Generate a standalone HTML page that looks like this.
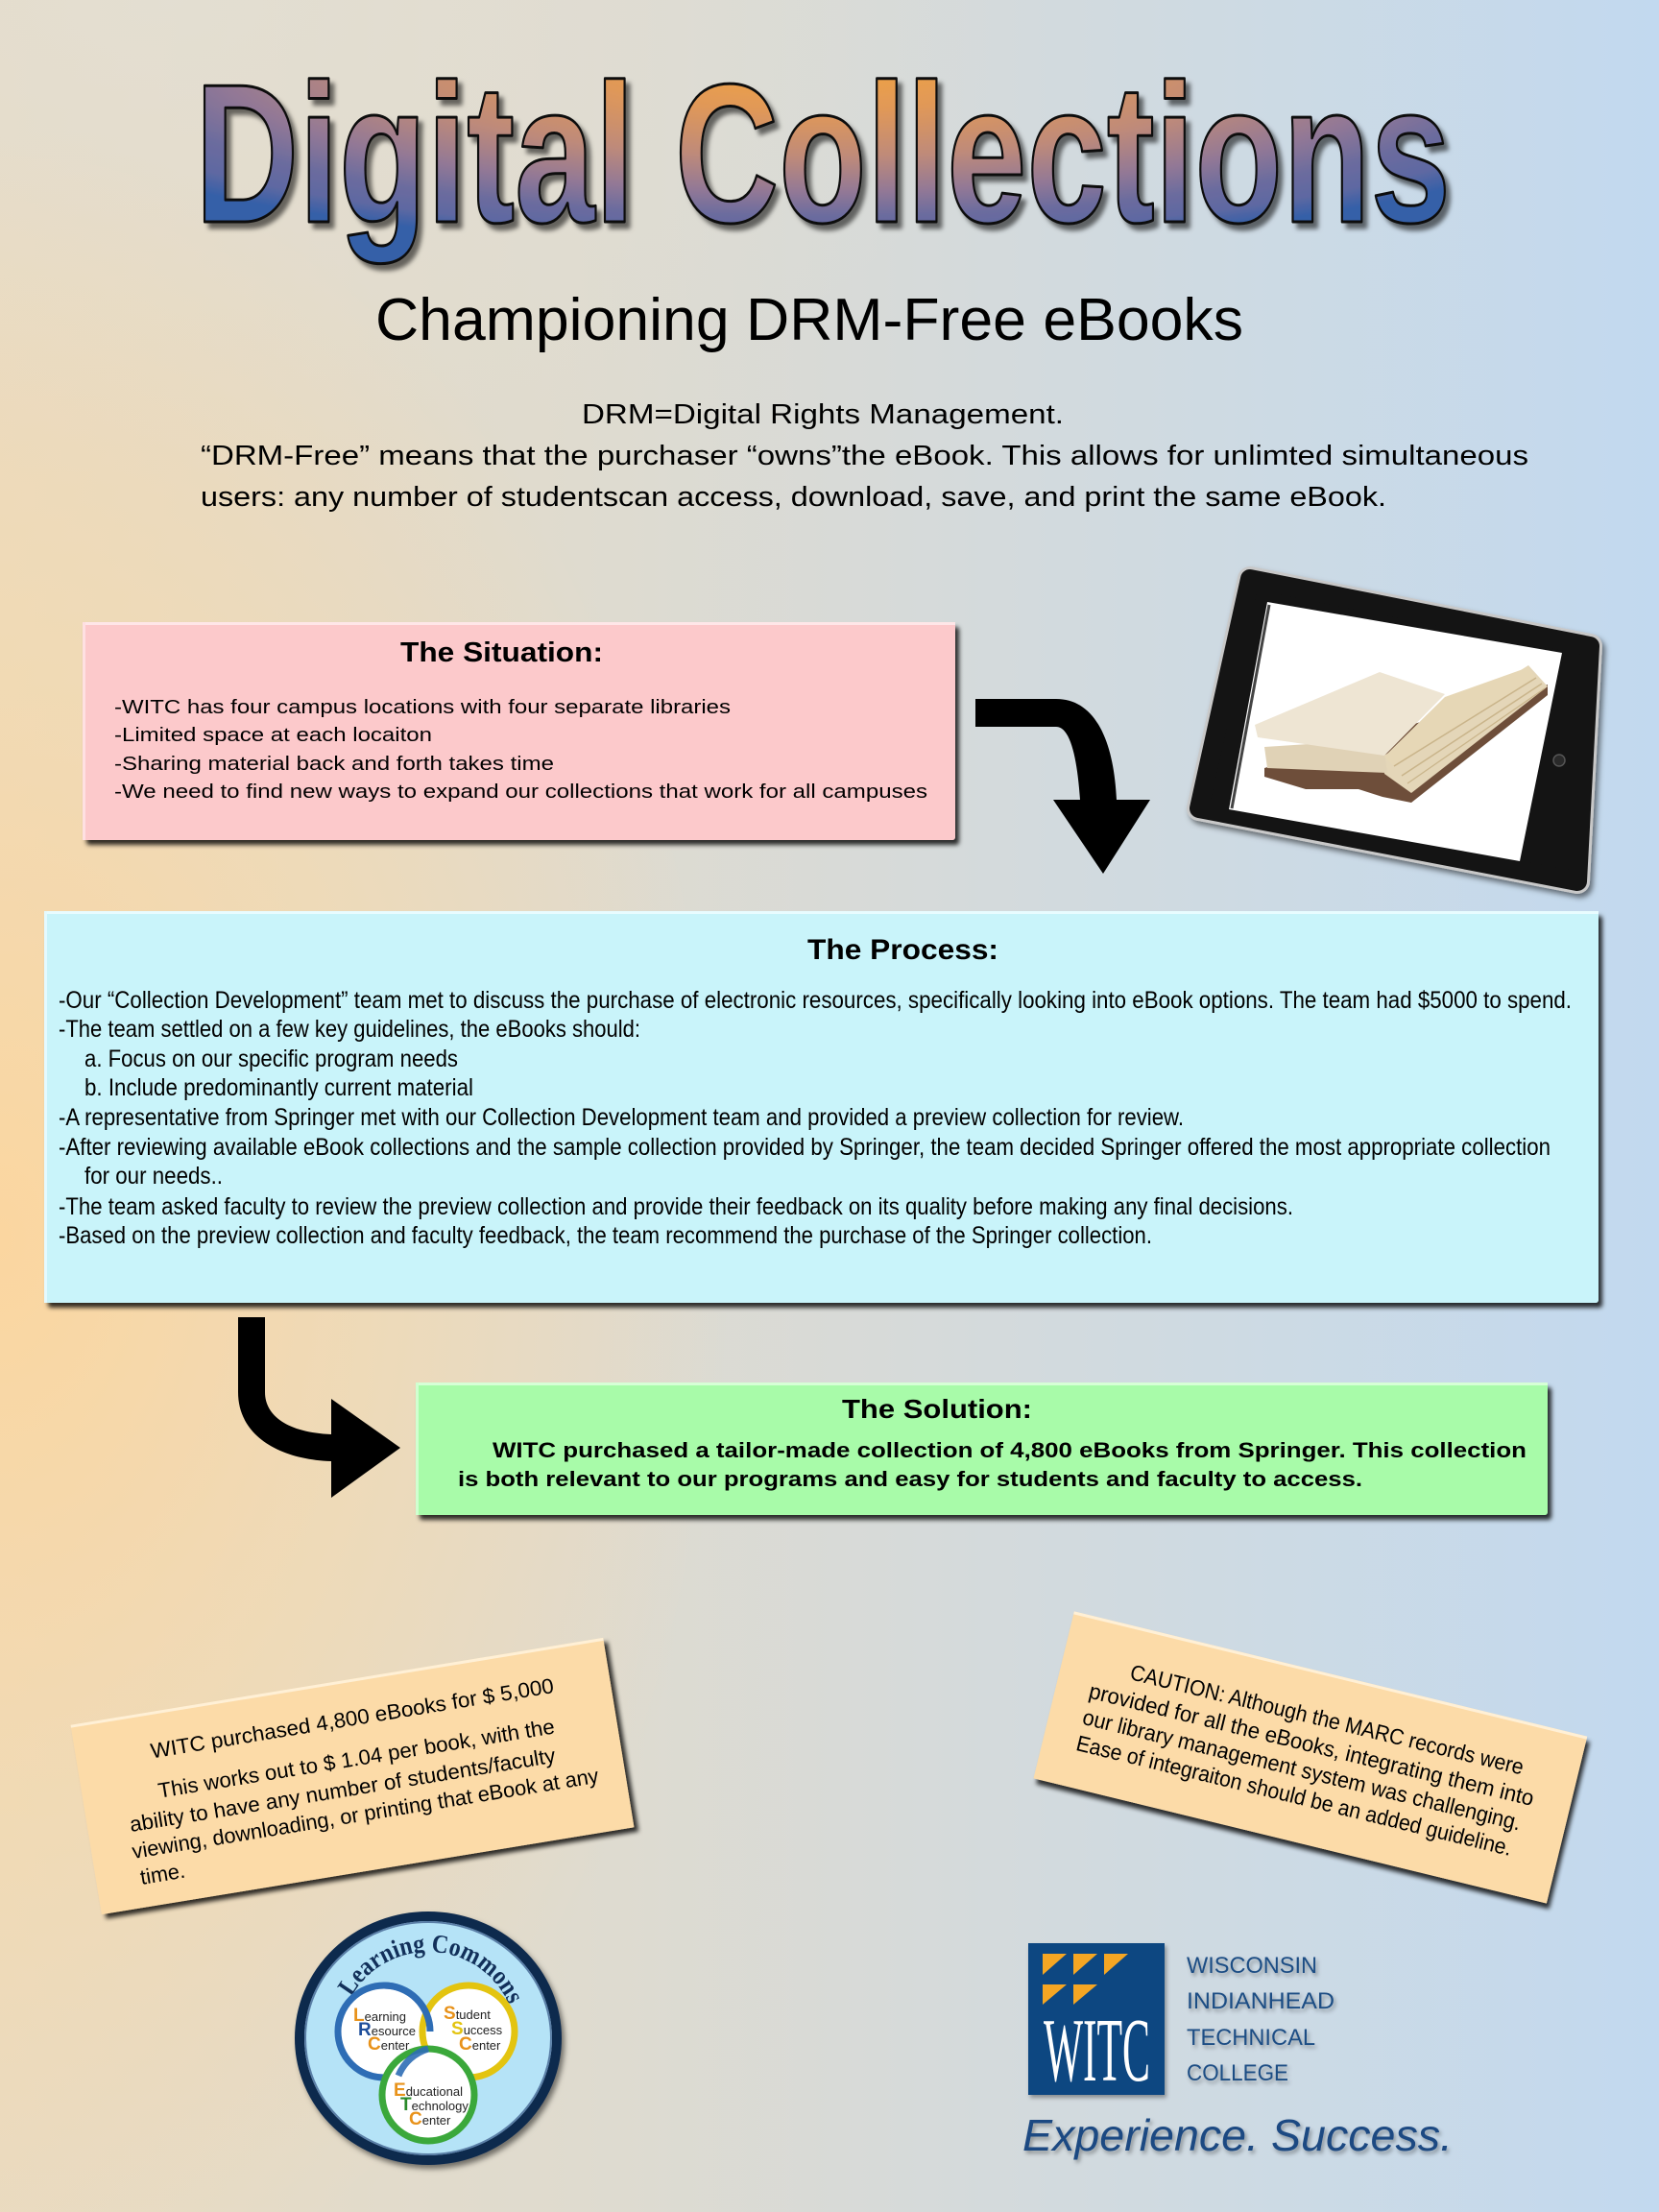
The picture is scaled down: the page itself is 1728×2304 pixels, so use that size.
<!DOCTYPE html>
<html>
<head>
<meta charset="utf-8">
<style>
html,body{margin:0;padding:0;}
body{
  width:1728px;height:2304px;overflow:hidden;position:relative;
  background:
    radial-gradient(ellipse 760px 1150px at 0% 56%, rgba(252,214,158,0.95) 0%, rgba(250,216,165,0.55) 45%, rgba(250,216,165,0) 100%),
    radial-gradient(ellipse 900px 500px at 10% 0%, rgba(226,223,214,0.7) 0%, rgba(226,223,214,0) 100%),
    linear-gradient(to right, #E8DBC3 0%, #DFDBCF 35%, #D3DADD 62%, #C2D9EF 100%);
}
svg{position:absolute;left:0;top:0;}
</style>
</head>
<body>
<svg width="1728" height="2304" viewBox="0 0 1728 2304" xmlns="http://www.w3.org/2000/svg">
<defs>
  <radialGradient id="tg" gradientUnits="userSpaceOnUse" cx="850" cy="60" r="200" gradientTransform="translate(850 60) scale(4.5 1) translate(-850 -60)">
    <stop offset="0" stop-color="#F4A63E"/>
    <stop offset="0.28" stop-color="#E09858"/>
    <stop offset="0.52" stop-color="#BE8A7A"/>
    <stop offset="0.7" stop-color="#927896"/>
    <stop offset="0.82" stop-color="#6C6C9E"/>
    <stop offset="0.92" stop-color="#5E68A2"/>
    <stop offset="1" stop-color="#3560A8"/>
  </radialGradient>
  <filter id="tsh" x="-5%" y="-10%" width="115%" height="130%">
    <feDropShadow dx="5" dy="6" stdDeviation="2.5" flood-color="#000" flood-opacity="0.55"/>
  </filter>
  <filter id="bsh" x="-5%" y="-10%" width="115%" height="130%">
    <feDropShadow dx="4" dy="5" stdDeviation="2.5" flood-color="#000" flood-opacity="0.8"/>
  </filter>
  <filter id="ssh" x="-10%" y="-10%" width="130%" height="130%">
    <feDropShadow dx="3" dy="4" stdDeviation="3" flood-color="#000" flood-opacity="0.5"/>
  </filter>
  <filter id="lsh" x="-10%" y="-10%" width="130%" height="130%">
    <feDropShadow dx="2" dy="3" stdDeviation="2" flood-color="#000" flood-opacity="0.35"/>
  </filter>
  <path id="arcLC" d="M 364.8,2081.8 A 92 92 0 0 1 531.3,2090.5"/>
</defs>

<!-- TITLE -->
<g filter="url(#tsh)">
  <text x="203" y="231" font-family="'Liberation Sans Narrow','Liberation Sans',sans-serif" font-weight="bold" font-size="206" textLength="1308" lengthAdjust="spacingAndGlyphs" fill="url(#tg)" stroke="#111" stroke-width="3" stroke-linejoin="round">Digital Collections</text>
</g>

<!-- SUBTITLE -->
<text x="391" y="354" font-family="'Liberation Sans',sans-serif" font-size="62" textLength="904" lengthAdjust="spacingAndGlyphs" fill="#000">Championing DRM-Free eBooks</text>

<g font-family="'Liberation Sans',sans-serif" font-size="29" fill="#000">
  <text x="606" y="441" textLength="502" lengthAdjust="spacingAndGlyphs">DRM=Digital Rights Management.</text>
  <text x="209" y="484" textLength="1383" lengthAdjust="spacingAndGlyphs">“DRM-Free” means that the purchaser “owns”the eBook.  This allows for unlimted simultaneous</text>
  <text x="209" y="527" textLength="1235" lengthAdjust="spacingAndGlyphs">users: any number of studentscan access, download, save, and print the same eBook.</text>
</g>

<!-- SITUATION BOX -->
<g filter="url(#bsh)">
  <rect x="86" y="648" width="909" height="227" rx="3" fill="#FCC9CB"/>
</g>
<rect x="86" y="648" width="909" height="3" fill="#FFE6E8"/>
<rect x="86" y="648" width="3" height="227" fill="#FFE0E2"/>
<text x="417" y="689" font-family="'Liberation Sans',sans-serif" font-weight="bold" font-size="29" textLength="211" lengthAdjust="spacingAndGlyphs">The Situation:</text>
<g font-family="'Liberation Sans',sans-serif" font-size="20" fill="#000">
  <text x="119" y="743" textLength="642" lengthAdjust="spacingAndGlyphs">-WITC has four campus locations with four separate libraries</text>
  <text x="119" y="772" textLength="331" lengthAdjust="spacingAndGlyphs">-Limited space at each locaiton</text>
  <text x="119" y="802" textLength="458" lengthAdjust="spacingAndGlyphs">-Sharing material back and forth takes time</text>
  <text x="119" y="831" textLength="847" lengthAdjust="spacingAndGlyphs">-We need to find new ways to expand our collections that work for all campuses</text>
</g>

<!-- ARROW 1 -->
<path d="M1016,728 L1100,728 C1140,728 1160,770 1163,833 L1198,833 L1149,910 L1097,833 L1125,833 C1122,790 1115,757 1100,757 L1016,757 Z" fill="#000"/>

<!-- TABLET -->
<g filter="url(#ssh)">
  <polygon points="1302,603 1656,673 1643,918 1249,842" fill="#C8C8C8" stroke="#C8C8C8" stroke-width="26" stroke-linejoin="round"/>
</g>
<polygon points="1302,603 1656,673 1643,918 1249,842" fill="#141414" stroke="#141414" stroke-width="20" stroke-linejoin="round"/>
<polygon points="1320,627 1627,680 1583,897 1280,843" fill="#FFFFFF"/>
<line x1="1322" y1="630" x2="1283" y2="842" stroke="#444" stroke-width="3"/>
<circle cx="1624" cy="792" r="6" fill="#2a2a2a" stroke="#555" stroke-width="1.5"/>
<!-- book -->
<polygon points="1317,800 1612,713 1612,724 1470,836 1440,830 1415,822 1360,822 1317,809" fill="#6E4E3A"/>
<polygon points="1440,788 1592,693 1612,715 1470,826 1442,806" fill="#E4D6B8"/>
<polygon points="1317,778 1440,770 1445,805 1320,800" fill="#E0D2B6"/>
<polygon points="1442,788 1505,726 1592,695 1600,706 1452,798" fill="#E6D7B6"/>
<polygon points="1307,755 1437,700 1505,723 1442,787 1310,768" fill="#EEE5D3"/>
<line x1="1452" y1="798" x2="1600" y2="706" stroke="#C9B48A" stroke-width="1.5"/>
<line x1="1460" y1="808" x2="1606" y2="712" stroke="#C9B48A" stroke-width="1.5"/>
<line x1="1466" y1="816" x2="1609" y2="717" stroke="#C9B48A" stroke-width="1.2"/>

<!-- PROCESS BOX -->
<g filter="url(#bsh)">
  <rect x="46" y="949" width="1619" height="408" rx="3" fill="#C9F4FA"/>
</g>
<rect x="46" y="949" width="1619" height="3" fill="#E8FCFF"/>
<rect x="46" y="949" width="3" height="408" fill="#E4FAFF"/>
<text x="841" y="999" font-family="'Liberation Sans',sans-serif" font-weight="bold" font-size="30" textLength="199" lengthAdjust="spacingAndGlyphs">The Process:</text>
<g font-family="'Liberation Sans Narrow','Liberation Sans',sans-serif" font-size="25" fill="#000">
  <text x="61" y="1050" textLength="1576" lengthAdjust="spacingAndGlyphs">-Our “Collection Development” team met to discuss the purchase of electronic resources, specifically looking into eBook options.  The team had $5000 to spend.</text>
  <text x="61" y="1080" textLength="606" lengthAdjust="spacingAndGlyphs">-The team settled on a few key guidelines, the eBooks should:</text>
  <text x="88" y="1111" textLength="389" lengthAdjust="spacingAndGlyphs">a. Focus on our specific program needs</text>
  <text x="88" y="1141" textLength="405" lengthAdjust="spacingAndGlyphs">b. Include predominantly current material</text>
  <text x="61" y="1172" textLength="1172" lengthAdjust="spacingAndGlyphs">-A representative from Springer met with our Collection Development team and provided a preview collection for review.</text>
  <text x="61" y="1203" textLength="1554" lengthAdjust="spacingAndGlyphs">-After reviewing available eBook collections and the sample collection provided by Springer, the team decided Springer offered the most appropriate collection</text>
  <text x="88" y="1233" textLength="144" lengthAdjust="spacingAndGlyphs">for our needs..</text>
  <text x="61" y="1265" textLength="1286" lengthAdjust="spacingAndGlyphs">-The team asked faculty to review the preview collection and provide their feedback on its quality before making any final decisions.</text>
  <text x="61" y="1295" textLength="1139" lengthAdjust="spacingAndGlyphs">-Based on the preview collection and faculty feedback, the team recommend the purchase of the Springer collection.</text>
</g>

<!-- ARROW 2 -->
<path d="M248,1372 L276,1372 L276,1450 C276,1475 300,1492 345,1494 L345,1457 L417,1508 L345,1560 L345,1522 C290,1520 248,1495 248,1450 Z" fill="#000"/>

<!-- SOLUTION BOX -->
<g filter="url(#bsh)">
  <rect x="433" y="1440" width="1179" height="138" rx="3" fill="#A8FBA9"/>
</g>
<rect x="433" y="1440" width="1179" height="3" fill="#D6FFD6"/>
<rect x="433" y="1440" width="3" height="138" fill="#D0FFD0"/>
<text x="877" y="1477" font-family="'Liberation Sans',sans-serif" font-weight="bold" font-size="28" textLength="198" lengthAdjust="spacingAndGlyphs">The Solution:</text>
<g font-family="'Liberation Sans',sans-serif" font-weight="bold" font-size="22" fill="#000">
  <text x="513" y="1518" textLength="1077" lengthAdjust="spacingAndGlyphs">WITC purchased a tailor-made collection of 4,800 eBooks from Springer.  This collection</text>
  <text x="477" y="1548" textLength="942" lengthAdjust="spacingAndGlyphs">is both relevant to our programs and easy for students and faculty to access.</text>
</g>

<!-- LEFT NOTE -->
<g transform="translate(367,1850) rotate(-9.3)">
  <g filter="url(#bsh)">
    <rect x="-281" y="-100" width="562" height="200" fill="#FCDBA8"/>
  </g>
  <rect x="-281" y="-100" width="562" height="3" fill="#FFF0D6"/>
  <g font-family="'Liberation Sans',sans-serif" font-size="22" fill="#000">
    <text x="-203" y="-52" textLength="425" lengthAdjust="spacingAndGlyphs">WITC purchased 4,800 eBooks for $ 5,000</text>
    <text x="-202" y="-10" textLength="418" lengthAdjust="spacingAndGlyphs">This works out to $ 1.04 per book, with the</text>
    <text x="-237" y="20" textLength="449" lengthAdjust="spacingAndGlyphs">ability to have any number of students/faculty</text>
    <text x="-239" y="48" textLength="492" lengthAdjust="spacingAndGlyphs">viewing, downloading, or printing that eBook at any</text>
    <text x="-235" y="76" textLength="47" lengthAdjust="spacingAndGlyphs">time.</text>
  </g>
</g>

<!-- RIGHT NOTE -->
<g transform="translate(1365,1830) rotate(13.7)">
  <g filter="url(#bsh)">
    <rect x="-275" y="-89" width="550" height="179" fill="#FCDBA8"/>
  </g>
  <rect x="-275" y="-89" width="550" height="3" fill="#FFF0D6"/>
  <g font-family="'Liberation Sans',sans-serif" font-size="23" fill="#000">
    <text x="-203" y="-34" textLength="421" lengthAdjust="spacingAndGlyphs">CAUTION: Although the MARC records were</text>
    <text x="-240" y="-5" textLength="476" lengthAdjust="spacingAndGlyphs">provided for all the eBooks, integrating them into</text>
    <text x="-240" y="23" textLength="469" lengthAdjust="spacingAndGlyphs">our library management system was challenging.</text>
    <text x="-240" y="51" textLength="466" lengthAdjust="spacingAndGlyphs">Ease of integraiton should be an added guideline.</text>
  </g>
</g>

<!-- LEARNING COMMONS LOGO -->
<g filter="url(#ssh)">
  <ellipse cx="446" cy="2123" rx="134" ry="127" fill="#B5E3F7" stroke="#0F2A4E" stroke-width="10"/>
</g>
<ellipse cx="446" cy="2123" rx="128" ry="121" fill="none" stroke="#5A7EA6" stroke-width="2"/>
<text font-family="'Liberation Serif',serif" font-size="27" font-weight="bold" fill="#12305A">
  <textPath href="#arcLC" startOffset="2" textLength="204" lengthAdjust="spacingAndGlyphs">Learning Commons</textPath>
</text>
<circle cx="400" cy="2116" r="48" fill="#FFFFFF" stroke="#2E6DB5" stroke-width="7"/>
<circle cx="488" cy="2116" r="48" fill="#FFFFFF" stroke="#E3C410" stroke-width="7"/>
<circle cx="446" cy="2182" r="48" fill="#FFFFFF" stroke="#3BA83B" stroke-width="7"/>
<path d="M 400,2068 A 48 48 0 0 1 448,2116" fill="none" stroke="#2E6DB5" stroke-width="7"/>
<path d="M 415,2162 A 48 48 0 0 1 446,2134" fill="none" stroke="#2E6DB5" stroke-width="7" opacity="0.9"/>
<g font-family="'Liberation Sans',sans-serif" font-size="13" fill="#222">
  <text x="368" y="2105"><tspan fill="#E8921A" font-size="19" font-weight="bold">L</tspan>earning</text>
  <text x="373" y="2120"><tspan fill="#1F4E9A" font-size="19" font-weight="bold">R</tspan>esource</text>
  <text x="383" y="2135"><tspan fill="#E8921A" font-size="19" font-weight="bold">C</tspan>enter</text>
  <text x="462" y="2103"><tspan fill="#E8921A" font-size="19" font-weight="bold">S</tspan>tudent</text>
  <text x="470" y="2119"><tspan fill="#E3C410" font-size="19" font-weight="bold">S</tspan>uccess</text>
  <text x="478" y="2135"><tspan fill="#E8921A" font-size="19" font-weight="bold">C</tspan>enter</text>
  <text x="410" y="2183"><tspan fill="#E8921A" font-size="19" font-weight="bold">E</tspan>ducational</text>
  <text x="417" y="2198"><tspan fill="#2A8A2A" font-size="19" font-weight="bold">T</tspan>echnology</text>
  <text x="426" y="2213"><tspan fill="#E8921A" font-size="19" font-weight="bold">C</tspan>enter</text>
</g>

<!-- WITC LOGO -->
<g filter="url(#lsh)">
  <rect x="1071" y="2024" width="142" height="158" fill="#0F4781"/>
</g>
<g fill="#F5A623">
  <polygon points="1086,2035 1111,2035 1086,2057"/>
  <polygon points="1118,2035 1143,2035 1118,2057"/>
  <polygon points="1150,2035 1175,2035 1150,2057"/>
  <polygon points="1086,2067 1111,2067 1086,2088"/>
  <polygon points="1118,2067 1143,2067 1118,2088"/>
</g>
<text x="1087" y="2167" font-family="'Liberation Serif',serif" font-size="94" fill="#FFFFFF" textLength="111" lengthAdjust="spacingAndGlyphs">WITC</text>
<g font-family="'Liberation Sans',sans-serif" font-size="24" fill="#1E4D84" filter="url(#lsh)">
  <text x="1236" y="2055" textLength="136" lengthAdjust="spacingAndGlyphs">WISCONSIN</text>
  <text x="1236" y="2092" textLength="154" lengthAdjust="spacingAndGlyphs">INDIANHEAD</text>
  <text x="1236" y="2130" textLength="134" lengthAdjust="spacingAndGlyphs">TECHNICAL</text>
  <text x="1236" y="2167" textLength="106" lengthAdjust="spacingAndGlyphs">COLLEGE</text>
</g>
<text x="1065" y="2240" font-family="'Liberation Sans',sans-serif" font-style="italic" font-size="46" fill="#1E4A82" textLength="448" lengthAdjust="spacingAndGlyphs" filter="url(#lsh)">Experience.  Success.</text>
</svg>
</body>
</html>
